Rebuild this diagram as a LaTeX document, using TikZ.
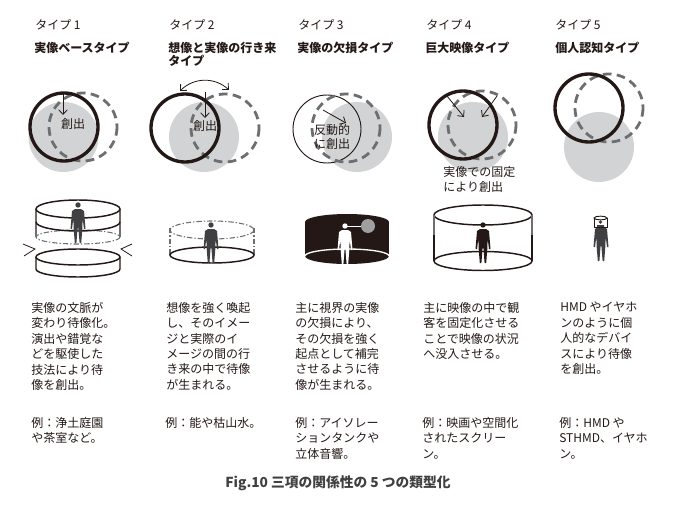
\documentclass[tikz,border=0pt]{standalone}
\usepackage{fontspec}
\setmainfont{Noto Sans CJK JP}
\usetikzlibrary{arrows.meta}
\definecolor{ink}{HTML}{231815}
\definecolor{pale}{HTML}{D1D3D4}
\definecolor{midgray}{HTML}{6D6E71}
\definecolor{figgray}{HTML}{404042}
\tikzset{
  realc/.style={draw=ink,line width=2.5pt},
  imagc/.style={draw=midgray,line width=2.1pt,dash pattern=on 6.5pt off 4pt},
  thinc/.style={draw=ink,line width=.7pt},
  arr/.style={draw=ink,line width=.6pt,-{Straight Barb[length=3.5pt,width=6.5pt]}},
  rim/.style={draw=ink,line width=1.1pt},
  ghost/.style={draw=midgray,line width=.8pt,dash pattern=on 4pt off 1.5pt on 1pt off 1.5pt},
  txt/.style={anchor=north west,inner sep=0pt,align=left,text=ink,font=\fontsize{9}{11.55}\selectfont},
  head/.style={anchor=north west,inner sep=0pt,align=left,text=ink,font=\bfseries\fontsize{9}{9.8}\selectfont},
  lab/.style={anchor=center,inner sep=0pt,align=left,text=ink,font=\fontsize{9}{11}\selectfont}
}
% gray disc and the two rings
\newcommand{\gdisc}[2]{\fill[pale] (#1,#2) circle[radius=35];}
\newcommand{\ring}[3]{\draw[#1] (#2,#3) circle[radius=34];}
% standing figure, feet at #1,#2
\newcommand{\person}[3]{\fill[#3,shift={(#1,#2)}] (0,-38) circle[radius=2.7]
  (-3,-34) -- (3,-34) -- (6,-32) -- (7.5,-14) -- (6,-14) -- (4.6,-25) -- (4.4,-15) -- (3.2,0) -- (1.6,0) -- (.4,-15)
  -- (-.4,-15) -- (-1.6,0) -- (-3.2,0) -- (-4.4,-15) -- (-4.6,-25) -- (-6,-14) -- (-7.5,-14) -- (-6,-32) -- cycle;}
\begin{document}
\begin{tikzpicture}[x=.75pt,y=-.75pt]
\useasboundingbox (0,0) rectangle (675,510);

% titles
\node[txt] (t1) at (35,19) {タイプ 1};
\node[txt] (t2) at (169,19) {タイプ 2};
\node[txt] (t3) at (298,19) {タイプ 3};
\node[txt] (t4) at (426,19) {タイプ 4};
\node[txt] (t5) at (555,19) {タイプ 5};
\node[head] (h1) at (34,42) {実像ベースタイプ};
\node[head] (h2) at (168,42) {想像と実像の行き来\\タイプ};
\node[head] (h3) at (297,42) {実像の欠損タイプ};
\node[head] (h4) at (425,42) {巨大映像タイプ};
\node[head] (h5) at (555,42) {個人認知タイプ};

% type 1 circles
\gdisc{63.5}{137} \ring{imagc}{83}{127} \ring{realc}{64}{127}
\coordinate (a1s) at (63,92); \coordinate (a1e) at (63,115);
\draw[arr] (a1s) -- (a1e);
\node[lab] (c1) at (73,124) {創出};

% type 2 circles
\gdisc{204}{137} \ring{imagc}{225}{128} \ring{realc}{185}{128}
\coordinate (a2s) at (205,92); \coordinate (a2e) at (205,118);
\draw[arr] (a2s) -- (a2e);
\coordinate (b2l) at (180,91); \coordinate (b2r) at (229,90);
\draw[draw=ink,line width=.6pt,{Straight Barb[length=3.5pt,width=6.5pt]}-{Straight Barb[length=3.5pt,width=6.5pt]}] (b2l) .. controls (194,77) and (215,77) .. (b2r);
\node[lab] (c2) at (205,126) {創出};

% type 3 circles
\gdisc{357}{137} \ring{thinc}{327}{129} \ring{imagc}{346}{128}
\coordinate (a3s) at (323,110); \coordinate (a3e) at (346,123);
\draw[arr] (a3s) -- (a3e);
\node[lab] (c3) at (332,137) {反動的\\に創出};

% type 4 circles
\gdisc{473}{137} \ring{imagc}{482}{125} \ring{realc}{463}{125}
\coordinate (a4s) at (447,96); \coordinate (a4e) at (464,117);
\coordinate (a5s) at (497,96); \coordinate (a5e) at (482,117);
\draw[arr] (a4s) -- (a4e);
\draw[arr] (a5s) -- (a5e);
\node[lab,anchor=north west] (c4) at (443,166) {実像での固定\\により創出};

% type 5 circles
\gdisc{599}{147} \ring{imagc}{609}{108} \ring{realc}{589}{108}

% type 1 cylinder
\draw[ghost] (78,237) ellipse[x radius=42,y radius=7];
\draw[midgray,line width=.8pt] (36,222) -- (36,237) (120,222) -- (120,237);
\draw[rim] (78,209) ellipse[x radius=42,y radius=9];
\draw[rim] (36,209) -- (36,222) arc[start angle=180,end angle=0,x radius=42,y radius=9] -- (120,209);
\person{78}{243}{figgray}
\draw[rim] (78,257) ellipse[x radius=42,y radius=8];
\draw[rim] (36,257) -- (36,269) arc[start angle=180,end angle=0,x radius=42,y radius=8] -- (120,257);
\draw[ink,line width=.6pt] (23,244) -- (35,249) -- (24,256);
\draw[ink,line width=.6pt] (132,244) -- (121,249) -- (132,256);

% type 2 cylinder
\draw[ghost] (212,230) ellipse[x radius=42,y radius=9];
\draw[ghost] (170,228) -- (170,255) (254,228) -- (254,255);
\draw[rim] (212,255) ellipse[x radius=42,y radius=8];
\person{211}{263}{figgray}

% type 3 cylinder
\fill[ink] (305,222) rectangle (389,256);
\fill[ink] (347,222) ellipse[x radius=42,y radius=8];
\fill[ink] (347,256) ellipse[x radius=42,y radius=8];
\draw[white,line width=1pt] (305,256) arc[start angle=180,end angle=360,x radius=42,y radius=7];
\node[circle,fill=gray!75,inner sep=0pt,minimum size=10.5pt] (sc3) at (368,226) {};
\coordinate (ey3) at (345,226);
\draw[white,line width=.7pt] (ey3) -- (sc3);
\person{345}{264}{white}

% type 4 cylinder
\draw[rim] (483,215) ellipse[x radius=49,y radius=10];
\draw[rim] (483,261) ellipse[x radius=49,y radius=9.5];
\draw[midgray,line width=.9pt] (434,215) -- (434,235) (532,215) -- (532,235);
\draw[ink,line width=1.5pt] (434,235) -- (434,261) (532,235) -- (532,261);
\person{483}{263}{ink}

% type 5 figure
\person{601}{261}{figgray}
\draw[ink,fill=white,line width=.7pt] (594,218) rectangle (607,227);
\draw[ink,fill=white,line width=.7pt] (600.5,218) ellipse[x radius=6.5,y radius=1.8];
\fill[figgray] (600.5,222) circle[radius=1.8] (597,227) rectangle (604,225);

% descriptions
\node[txt] (d1) at (31,302) {実像の文脈が\\変わり待像化。\\演出や錯覚な\\どを駆使した\\技法により待\\像を創出。};
\node[txt] (d2) at (166,302) {想像を強く喚起\\し、そのイメー\\ジと実際のイ\\メージの間の行\\き来の中で待像\\が生まれる。};
\node[txt] (d3) at (295,302) {主に視界の実像\\の欠損により、\\その欠損を強く\\起点として補完\\させるように待\\像が生まれる。};
\node[txt] (d4) at (423,302) {主に映像の中で観\\客を固定化させる\\ことで映像の状況\\へ没入させる。};
\node[txt] (d5) at (560,302) {HMD やイヤホ\\ンのように個\\人的なデバイ\\スにより待像\\を創出。};

% examples
\node[txt] (e1) at (31,417) {例：浄土庭園\\や茶室など。};
\node[txt] (e2) at (165,417) {例：能や枯山水。};
\node[txt] (e3) at (295,417) {例：アイソレー\\ションタンクや\\立体音響。};
\node[txt] (e4) at (422,417) {例：映画や空間化\\されたスクリー\\ン。};
\node[txt] (e5) at (559,417) {例：HMD や\\STHMD、イヤホ\\ン。};

\node[inner sep=0pt,text=figgray,font=\bfseries\fontsize{10.3}{12}\selectfont] (cap) at (338,483) {Fig.10 三項の関係性の 5 つの類型化};
\end{tikzpicture}
\end{document}
